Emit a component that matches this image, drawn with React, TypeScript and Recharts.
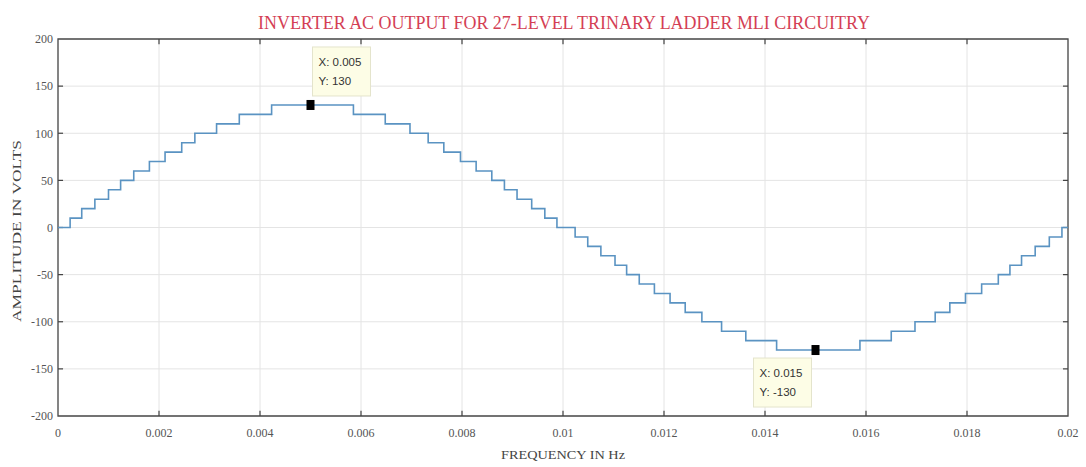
import React from 'react';
import {
    LineChart,
    Line,
    XAxis,
    YAxis,
    CartesianGrid,
    ReferenceLine,
    ReferenceArea,
    ReferenceDot
} from 'recharts';

const stepTimes = [
    0, 0.00024, 0.00047, 0.00073, 0.001, 0.00124, 0.0015, 0.00181, 0.00212, 0.00245, 0.00271, 0.00314, 0.00359, 0.00423,
    0.00585, 0.00648, 0.00697, 0.00733, 0.00764, 0.00797, 0.00828, 0.00859, 0.00884, 0.00909, 0.00938, 0.00964, 0.00988,
    0.01024, 0.01049, 0.01075, 0.01103, 0.01126, 0.01151, 0.01181, 0.01212, 0.01242, 0.01275, 0.01314, 0.01362, 0.01423,
    0.01588, 0.0165, 0.01697, 0.01737, 0.01766, 0.01797, 0.01829, 0.01862, 0.01885, 0.01908, 0.01935, 0.01963, 0.01988,
    0.02
];
const stepLevels = [
    0, 10, 20, 30, 40, 50, 60, 70, 80, 90, 100, 110, 120, 130,
    120, 110, 100, 90, 80, 70, 60, 50, 40, 30, 20, 10, 0,
    -10, -20, -30, -40, -50, -60, -70, -80, -90, -100, -110, -120, -130,
    -120, -110, -100, -90, -80, -70, -60, -50, -40, -30, -20, -10, 0,
    0
];

const xTicks = [0, 0.002, 0.004, 0.006, 0.008, 0.01, 0.012, 0.014, 0.016, 0.018, 0.02];
const yTicks = [-200, -150, -100, -50, 0, 50, 100, 150, 200];

const dataTips = [
    { x: 0.005, y: 130, lines: ['X: 0.005', 'Y: 130'], above: true },
    { x: 0.015, y: -130, lines: ['X: 0.015', 'Y: -130'], above: false }
];

const TITLE = 'INVERTER AC OUTPUT FOR 27-LEVEL TRINARY LADDER MLI CIRCUITRY';
const X_LABEL = 'FREQUENCY IN Hz';
const Y_LABEL = 'AMPLITUDE IN VOLTS';

const W = 1086;
const H = 467;
const serif = '"Liberation Serif", "Times New Roman", serif';

const chartData = stepTimes.map((t, i) => ({ t, v: stepLevels[i] }));

const DataTip = (props: any) => {
    const { cx, cy, lines, above } = props;
    if (cx == null || cy == null) return null;
    const bx = above ? cx + 2 : cx - 62;
    const by = above ? cy - 58 : cy + 8;
    return (
        <g>
            <rect x={bx} y={by} width={58} height={49} fill="#fdfde6" stroke="#e4e4cc" strokeWidth={1} />
            {lines.map((s: string, i: number) => (
                <text
                    key={i}
                    x={bx + 6}
                    y={by + 19 + i * 19}
                    fontSize={11.5}
                    fontFamily='"Liberation Sans", Arial, sans-serif'
                    fill="#333"
                >
                    {s}
                </text>
            ))}
            <rect x={cx - 4} y={cy - 5} width={8} height={10} fill="#000" />
        </g>
    );
};

export default function App() {
    return (
        <div style={{ position: 'absolute', left: 0, top: 0, width: W, height: H, background: '#fff' }}>
            <LineChart width={W} height={H} data={chartData} margin={{ top: 39, right: 18, bottom: 0, left: 0 }}>
                <CartesianGrid stroke="#e4e4e4" strokeWidth={1} />
                <XAxis
                    dataKey="t"
                    type="number"
                    domain={[0, 0.02]}
                    ticks={xTicks}
                    height={51}
                    tickLine={false}
                    axisLine={false}
                    tickSize={6}
                    tickMargin={6}
                    tickFormatter={(v: number) => String(Number(v.toFixed(3)))}
                    tick={{ fontSize: 12, fill: '#555', fontFamily: serif }}
                    allowDataOverflow
                />
                <YAxis
                    type="number"
                    domain={[-200, 200]}
                    ticks={yTicks}
                    width={58}
                    tickLine={false}
                    axisLine={false}
                    tickSize={5}
                    tickMargin={0}
                    tick={{ fontSize: 12, fill: '#555', fontFamily: serif }}
                    allowDataOverflow
                />
                <ReferenceArea x1={0} x2={0.02} y1={-200} y2={200} fill="none" fillOpacity={0} stroke="#4a4a4a" strokeWidth={1.3} />
                {xTicks.slice(1, -1).map((t) => (
                    <ReferenceLine key={`xb-${t}`} segment={[{ x: t, y: -200 }, { x: t, y: -194.5 }]} stroke="#444" strokeWidth={1.2} />
                ))}
                {xTicks.slice(1, -1).map((t) => (
                    <ReferenceLine key={`xt-${t}`} segment={[{ x: t, y: 200 }, { x: t, y: 194.5 }]} stroke="#444" strokeWidth={1.2} />
                ))}
                {yTicks.slice(1, -1).map((v) => (
                    <ReferenceLine key={`yl-${v}`} segment={[{ x: 0, y: v }, { x: 0.0001, y: v }]} stroke="#444" strokeWidth={1.2} />
                ))}
                {yTicks.slice(1, -1).map((v) => (
                    <ReferenceLine key={`yr-${v}`} segment={[{ x: 0.02, y: v }, { x: 0.0199, y: v }]} stroke="#444" strokeWidth={1.2} />
                ))}
                <Line
                    dataKey="v"
                    type="stepAfter"
                    stroke="#5a93c2"
                    strokeWidth={1.6}
                    dot={false}
                    activeDot={false}
                    isAnimationActive={false}
                />
                {dataTips.map((d) => (
                    <ReferenceDot
                        key={d.x}
                        x={d.x}
                        y={d.y}
                        r={5}
                        ifOverflow="visible"
                        shape={(p: any) => <DataTip {...p} lines={d.lines} above={d.above} />}
                    />
                ))}
            </LineChart>
            <svg
                width={W}
                height={H}
                style={{ position: 'absolute', left: 0, top: 0, pointerEvents: 'none' }}
            >
                <text
                    x={564}
                    y={29}
                    textAnchor="middle"
                    fontSize={19}
                    fontFamily={serif}
                    fill="#d43f55"
                    textLength={612}
                    lengthAdjust="spacingAndGlyphs"
                >
                    {TITLE}
                </text>
                <text
                    x={563}
                    y={459}
                    textAnchor="middle"
                    fontSize={13}
                    fontFamily={serif}
                    fill="#444"
                    textLength={124}
                    lengthAdjust="spacingAndGlyphs"
                >
                    {X_LABEL}
                </text>
                <text
                    x={0}
                    y={0}
                    transform="translate(21,231) rotate(-90)"
                    textAnchor="middle"
                    fontSize={13}
                    fontFamily={serif}
                    fill="#444"
                    textLength={182}
                    lengthAdjust="spacingAndGlyphs"
                >
                    {Y_LABEL}
                </text>
            </svg>
        </div>
    );
}
